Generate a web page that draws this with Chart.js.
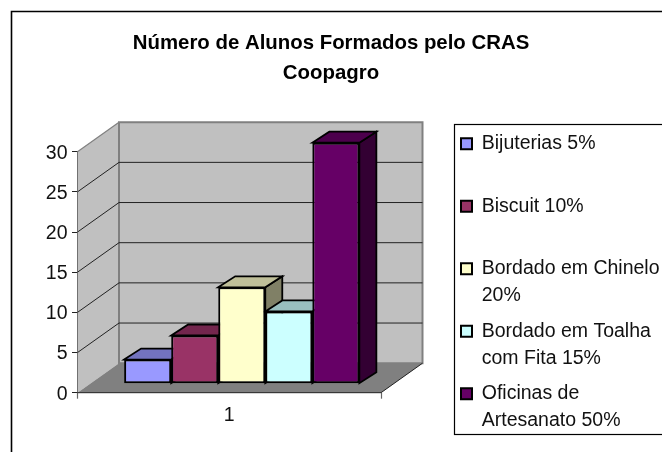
<!DOCTYPE html>
<html><head><meta charset="utf-8">
<style>html,body{margin:0;padding:0;background:#fff}#w{width:662px;height:452px;position:relative}</style>
<script src="https://cdn.jsdelivr.net/npm/chart.js@4/dist/chart.umd.js"></script>
</head><body><div id="w"><canvas id="c" width="662" height="452"></canvas></div>
<script>
const categories = ['1'];
const seriesNames = [['Bijuterias 5%',''],['Biscuit 10%',''],['Bordado em Chinelo','20%'],['Bordado em Toalha','com Fita 15%'],['Oficinas de','Artesanato 50%']];
const seriesValues = [[3],[6],[12],[9],[30]];
const frontColors = ['#9999FF','#993366','#FFFFCC','#CCFFFF','#660066'];
const topColors = ['#7373BF','#73264D','#BFBF99','#99BFBF','#4D004D'];
const sideColors = ['#4D4D80','#4D1A33','#808066','#668080','#330033'];
const titleLines = ['Número de Alunos Formados pelo CRAS','Coopagro'];
const yTicks = [0,5,10,15,20,25,30];

const FONT = 'Liberation Sans, Arial, sans-serif';
const WALL = {dx:41.5, dy:-29.5};
const SHIFT = {dx:12.5, dy:-9};
const BAR = {dx:17, dy:-11};

function poly(ctx, pts, fill, stroke, lw){
  ctx.beginPath(); pts.forEach((p,i)=> i?ctx.lineTo(p[0],p[1]):ctx.moveTo(p[0],p[1])); ctx.closePath();
  if(fill){ctx.fillStyle=fill;ctx.fill();}
  if(stroke){ctx.strokeStyle=stroke;ctx.lineWidth=lw;ctx.lineJoin='miter';ctx.stroke();}
}
const threeD = {
  id:'threeD',
  afterInit(chart){
    const lg = chart.legend, f = lg.fit;
    lg.fit = function(){ this.maxHeight = 452; f.call(this); this.width = 662 - 381; };
  },
  afterLayout(chart){
    const lg = chart.legend, h = lg.options.labels.padding;
    lg.left = 461 - h; lg.right = 662; lg.top = 134 - h; lg.bottom = 452; lg.width = 662-lg.left; lg.height = 452-lg.top;
  },
  beforeDraw(chart){
    const c = chart.ctx;
    c.save();
    c.fillStyle='#fff'; c.fillRect(0,0,662,452);
    c.strokeStyle='#000'; c.lineWidth=1.6;
    c.beginPath(); c.moveTo(11.5,452); c.lineTo(11.5,11.5); c.lineTo(662,11.5); c.stroke();
    c.lineWidth=1.2; c.strokeRect(454.5,124.5,300,310);
    c.restore();
  },
  beforeDatasetsDraw(chart){
    const c = chart.ctx, a = chart.chartArea, y = chart.scales.y, W = WALL;
    c.save();
    const L=a.left, R=a.right, T=a.top, B=a.bottom;
    poly(c,[[L,B],[L+W.dx,B+W.dy],[L+W.dx,T+W.dy],[L,T]],'#C0C0C0');
    poly(c,[[L+W.dx,B+W.dy],[R+W.dx,B+W.dy],[R+W.dx,T+W.dy],[L+W.dx,T+W.dy]],'#C0C0C0','#808080',2);
    poly(c,[[L,B],[L+W.dx,B+W.dy],[R+W.dx,B+W.dy],[R,B]],'#808080');
    c.strokeStyle='#808080'; c.lineWidth=1.2;
    c.beginPath(); c.moveTo(L,T); c.lineTo(L+W.dx,T+W.dy); c.stroke();
    c.strokeStyle='#222'; c.lineWidth=1;
    yTicks.forEach(t=>{ if(t===0||t===30) return;
      const p=y.getPixelForValue(t);
      c.beginPath(); c.moveTo(L,p); c.lineTo(L+W.dx,p+W.dy); c.lineTo(R+W.dx,p+W.dy); c.stroke();
    });
    c.strokeStyle='#222'; c.lineWidth=1;
    c.beginPath(); c.moveTo(L,B); c.lineTo(R,B); c.lineTo(R+W.dx,B+W.dy); c.stroke();
    c.translate(SHIFT.dx,SHIFT.dy);
    seriesValues.forEach((v,i)=>{
      const el = chart.getDatasetMeta(i).data[0];
      const w = el.width/2, l=el.x-w, r=el.x+w, t=el.y, b=el.base, d=BAR;
      poly(c,[[r,t],[r+d.dx,t+d.dy],[r+d.dx,b+d.dy],[r,b]],sideColors[i],'#000',1.8);
      poly(c,[[l,t],[l+d.dx,t+d.dy],[r+d.dx,t+d.dy],[r,t]],topColors[i],'#000',1.8);
    });
    c.restore();
  },
  beforeDatasetDraw(chart){
    chart.ctx.save();
    chart.ctx.translate(SHIFT.dx,SHIFT.dy);
  },
  afterDatasetDraw(chart){ chart.ctx.restore(); }
};
new Chart(document.getElementById('c'),{
  type:'bar',
  data:{labels:categories,datasets:seriesValues.map((v,i)=>({
    label:seriesNames[i],data:v,backgroundColor:frontColors[i],borderColor:'#000',borderWidth:2,
    clip:false,categoryPercentage:0.775,barPercentage:1,borderSkipped:false
  }))},
  plugins:[threeD],
  options:{
    responsive:false,animation:false,devicePixelRatio:1,
    layout:{padding:0},
    events:[],
    scales:{
      x:{grid:{offset:true,drawOnChartArea:false,tickLength:6,color:'#666',tickWidth:1.2},border:{display:false},
         ticks:{color:'#111',font:{family:FONT,size:19.5},padding:5},
         afterFit(s){s.height=59.3;}},
      y:{min:0,max:30,grid:{drawOnChartArea:false,tickLength:5.5,color:'#222',tickWidth:1},border:{display:true,color:'#222',width:1},
         ticks:{stepSize:5,color:'#111',font:{family:FONT,size:19.5},padding:4.5,labelOffset:1.5},
         afterFit(s){s.width=77.5;}}
    },
    plugins:{
      tooltip:{enabled:false},
      title:{display:true,text:titleLines,color:'#000',font:{family:FONT,size:20.4,weight:'bold',lineHeight:30/20.4},padding:{top:28,bottom:63.7}},
      legend:{display:true,position:'right',align:'start',
        labels:{boxWidth:11,boxHeight:11,color:'#111',font:{family:FONT,size:19.5,lineHeight:27/19.5},padding:8.5}}
    }
  }
});
</script></body></html>
